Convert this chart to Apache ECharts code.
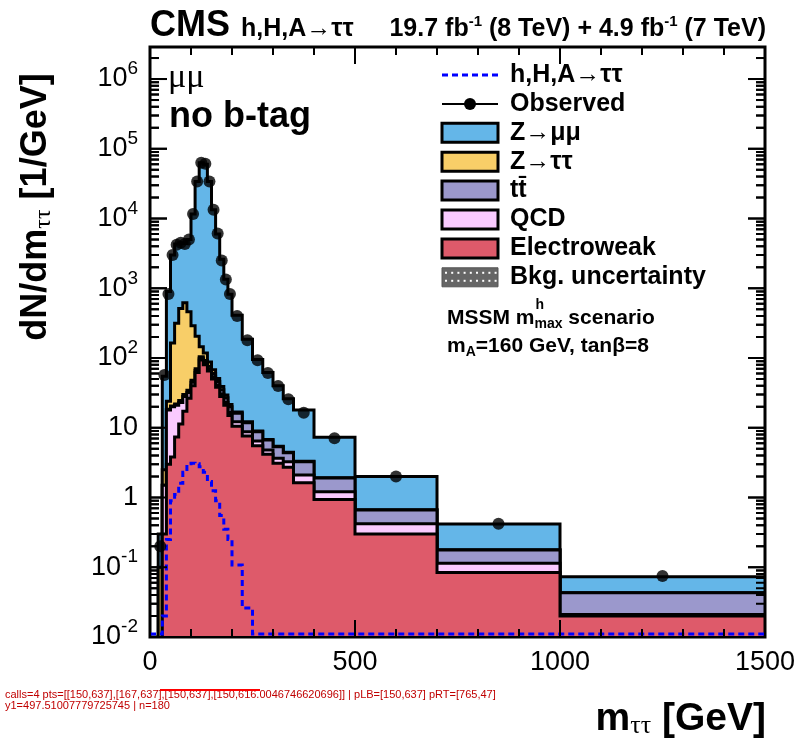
<!DOCTYPE html>
<html>
<head>
<meta charset="utf-8">
<script src="https://cdn.jsdelivr.net/npm/echarts@6.0.0/dist/echarts.min.js"></script>
<style>
html,body{margin:0;padding:0;background:#ffffff;}
#chart{width:799px;height:742px;}
</style>
</head>
<body>
<div id="chart"></div>
<script>
const binEdges = [0,10,20,30,40,50,60,70,80,90,100,110,120,130,140,150,160,170,180,190,200,225,250,275,300,325,350,400,500,700,1000,1500];
const observed = [null,null,0.2,57,830,3000,4200,4500,4300,5000,11600,34000,63000,61000,34000,13400,6100,2500,1340,830,400,180,93,61,39.6,25.6,16.4,7.1,2.0,0.42,0.075];
const electroweak = [0,0,0,0.3,3,3.8,7.4,11.3,17.3,26.5,40,62,94,80,65,50,38,28,21,15,10.5,7.6,5.5,4.16,3.09,2.71,1.63,0.94,0.30,0.084,0.020];
const qcd = [0,0,0,1.2,15,16.2,13.6,11.7,10.7,5.5,5,4,5,6,5,4,3,2.5,2,1.5,1.7,1.2,0.96,0.64,0.56,0.55,0.47,0.27,0.12,0.03,0.001];
const ttbar = [0,0,0,0,0.5,0.5,1,1.5,2,2.5,3,4,5,6,6,6,5,4.5,4,3.5,3.9,3.0,2.34,1.87,1.7,1.14,1.16,0.69,0.24,0.063,0.022];
const ztautau = [0,0,0.1,1,5.5,143.5,292,490.5,591,425.5,242,135,41,26,12,8,5,4,2.5,1.5,0.7,0.4,0.2,0.13,0.1,0.05,0.04,0.02,0.01,0.001,0];
const zmumu = [0,0,0.2,52.5,876,2836,3986,3985,3779,4540,11310,33795,62855,59882,33912,13332,5949,2561,1320,798,393,173,86,55.2,34.6,21.6,14.7,5.38,1.33,0.239,0.030];
const signal = [0,0,0,0.02,0.25,0.9,1.1,1.6,2.3,3.05,3.1,3.05,2.75,2.3,1.7,1.25,0.9,0.55,0.35,0.25,0.108,0.026,0,0,0,0,0,0,0,0,0];
const xTickValues = [0,500,1000,1500];
const yDecadeTicks = [0.01,0.1,1,10,100,1000,1e4,1e5,1e6];
const legendNames = ['h,H,A→ττ','Observed','Z→μμ','Z→ττ','tt\u0304','QCD','Electroweak','Bkg. uncertainty'];

const FONT = "'Liberation Sans', Arial, Helvetica, sans-serif";
const SERIF = "'Liberation Serif', 'DejaVu Serif', serif";
const Y_MIN = 0.01, Y_MAX = 2.88e6;
const nBins = binEdges.length - 1;
const colors = {zmm:'#64B6E8', ztt:'#F8CE68', tt:'#9B98CC', qcd:'#FACAFF', ewk:'#DE5A6A'};

function cumulate(list){
  const out = []; let run = new Array(nBins).fill(0);
  list.forEach(arr => { run = run.map((r,i) => r + (arr[i] || 0)); out.push(run.slice()); });
  return out;
}
const [cEwk, cQcd, cTt, cZtt, cZmm] = cumulate([electroweak, qcd, ttbar, ztautau, zmumu]);

function stackSeries(name, cum, color){
  return {
    type:'custom', name:name, coordinateSystem:'cartesian2d', clip:true, silent:true,
    data:[[0,1]], z:2,
    renderItem:function(params, api){
      const floor = 0.003;
      const pts = [api.coord([binEdges[0], floor])];
      for (let i=0;i<nBins;i++){
        const v = Math.max(cum[i], floor);
        pts.push(api.coord([binEdges[i], v]));
        pts.push(api.coord([binEdges[i+1], v]));
      }
      pts.push(api.coord([binEdges[nBins], floor]));
      return {type:'polygon', shape:{points:pts}, style:{fill:color, stroke:'#000', lineWidth:3, lineJoin:'miter'}};
    }
  };
}
const signalSeries = {
  type:'custom', name:'signal', coordinateSystem:'cartesian2d', clip:true, silent:true, data:[[0,1]], z:3,
  renderItem:function(params, api){
    const pts = [];
    for (let i=0;i<nBins;i++){
      const v = Math.max(signal[i], 0.011);
      pts.push(api.coord([binEdges[i], v]));
      pts.push(api.coord([binEdges[i+1], v]));
    }
    return {type:'polyline', shape:{points:pts}, style:{stroke:'#0000FF', lineWidth:3, lineDash:[6,4], fill:null}};
  }
};
const obsData = [];
observed.forEach((v,i) => { if (v != null) obsData.push([(binEdges[i]+binEdges[i+1])/2, v]); });

const yTicks = [];
for (let k=-2;k<=6;k++){
  for (let m=1;m<=9;m++){
    const v = m*Math.pow(10,k);
    if (v >= Y_MIN && v <= Y_MAX) yTicks.push({v:v, major:m===1});
  }
}
const xTicks = [];
for (let v=xTickValues[0]; v<=xTickValues[xTickValues.length-1]; v+=100){
  xTicks.push({v:v, major:xTickValues.indexOf(v) >= 0});
}
window.__dbg = {calls:0, pts:''};
function tickSeries(side){
  return {
    type:'custom', name:'ticks_'+side, coordinateSystem:'cartesian2d', clip:true, silent:true, data:[[0,1]], z:3,
    renderItem:function(params, api){
      window.__dbg.calls++;
      const pts = [];
      if (side === 'left' || side === 'right'){
        const xv = side === 'left' ? xTickValues[0] : xTickValues[xTickValues.length-1];
        const dir = side === 'left' ? 1 : -1;
        yTicks.forEach(t => {
          const p = api.coord([xv, t.v]);
          const len = t.major ? 17 : 9;
          pts.push([p[0], p[1]]); pts.push([p[0] + dir*len, p[1]]); pts.push([p[0], p[1]]);
        });
      } else {
        const yv = side === 'bottom' ? Y_MIN : Y_MAX;
        const dir = side === 'bottom' ? -1 : 1;
        xTicks.forEach(t => {
          const p = api.coord([t.v, yv]);
          const len = t.major ? 17 : 8;
          pts.push([p[0], p[1]]); pts.push([p[0], p[1] + dir*len]); pts.push([p[0], p[1]]);
        });
      }
      if (side === 'left') window.__dbg.pts = JSON.stringify(pts.slice(0,4));
      return {type:'polyline', shape:{points:pts}, style:{stroke:'#000000', lineWidth:2, fill:null}};
    }
  };
}

const graphics = [];
const LX = 442, LW = 56, LH = 19, TX = 510;
const rowY = i => 75 + 28.9*i;
graphics.push({type:'line', shape:{x1:LX, y1:rowY(0), x2:LX+LW, y2:rowY(0)}, style:{stroke:'#0000FF', lineWidth:3, lineDash:[6,4]}});
graphics.push({type:'line', shape:{x1:LX, y1:rowY(1), x2:LX+LW, y2:rowY(1)}, style:{stroke:'#000', lineWidth:2}});
graphics.push({type:'circle', shape:{cx:LX+LW/2, cy:rowY(1), r:6}, style:{fill:'#000'}});
[colors.zmm, colors.ztt, colors.tt, colors.qcd, colors.ewk].forEach((c,j) => {
  const y = rowY(j+2);
  graphics.push({type:'rect', shape:{x:LX, y:y-LH/2, width:LW, height:LH}, style:{fill:c, stroke:'#000', lineWidth:3}});
});
(function(){
  const y = rowY(7);
  graphics.push({type:'rect', shape:{x:LX, y:y-LH/2, width:LW, height:LH}, style:{fill:'#666666', stroke:'#555555', lineWidth:1}});
  for (let r=0;r<2;r++) for (let c=0;c<9;c++){
    graphics.push({type:'rect', shape:{x:LX+3+c*6.2, y:y-LH/2+4+r*8, width:2, height:2}, style:{fill:'#ffffff'}});
  }
})();
legendNames.forEach((t,i) => {
  graphics.push({type:'text', x:TX, y:rowY(i), style:{text:t, fontSize:25, fontWeight:'bold', fontFamily:FONT, fill:'#000', align:'left', verticalAlign:'middle'}});
});
const mc = document.createElement('canvas').getContext('2d');
mc.font = 'bold 21px ' + FONT;
const mssmX = 447;
const hX = mssmX + mc.measureText('MSSM m').width;
graphics.push({type:'text', x:mssmX, y:318, style:{text:'MSSM m{sub|max} scenario', rich:{sub:{fontSize:14, fontWeight:'bold', fontFamily:FONT, padding:[13,0,0,0]}}, fontSize:21, fontWeight:'bold', fontFamily:FONT, fill:'#000', align:'left', verticalAlign:'middle'}});
graphics.push({type:'text', x:hX+1, y:305, style:{text:'h', fontSize:14, fontWeight:'bold', fontFamily:FONT, fill:'#000', align:'left', verticalAlign:'middle'}});
graphics.push({type:'text', x:mssmX, y:346, style:{text:'m{sub|A}=160 GeV, tanβ=8', rich:{sub:{fontSize:14, fontWeight:'bold', fontFamily:FONT, padding:[13,0,0,0]}}, fontSize:21, fontWeight:'bold', fontFamily:FONT, fill:'#000', align:'left', verticalAlign:'middle'}});
graphics.push({type:'text', x:150, y:26, style:{text:'CMS', fontSize:36, fontWeight:'bold', fontFamily:FONT, fill:'#000', align:'left', verticalAlign:'middle'}});
graphics.push({type:'text', x:241, y:29, style:{text:'h,H,A→ττ', fontSize:25, fontWeight:'bold', fontFamily:FONT, fill:'#000', align:'left', verticalAlign:'middle'}});
graphics.push({type:'text', x:766, y:29, style:{text:'19.7 fb{sup|-1} (8 TeV) + 4.9 fb{sup|-1} (7 TeV)', rich:{sup:{fontSize:15, fontWeight:'bold', fontFamily:FONT, padding:[0,0,15,0]}}, fontSize:25, fontWeight:'bold', fontFamily:FONT, fill:'#000', align:'right', verticalAlign:'middle'}});
graphics.push({type:'text', x:168, y:78, style:{text:'μμ', fontSize:34, fontFamily:SERIF, fill:'#000', align:'left', verticalAlign:'middle'}});
graphics.push({type:'text', x:169, y:117, style:{text:'no b-tag', fontSize:36, fontWeight:'bold', fontFamily:FONT, fill:'#000', align:'left', verticalAlign:'middle'}});
graphics.push({type:'text', x:36, y:207, rotation:Math.PI/2, style:{text:'dN/dm{sub|ττ} [1/GeV]', rich:{sub:{fontSize:24, fontFamily:SERIF, padding:[15,0,0,0]}}, fontSize:36, fontWeight:'bold', fontFamily:FONT, fill:'#000', align:'center', verticalAlign:'middle'}});
graphics.push({type:'text', x:766, y:719, style:{text:'m{sub|ττ} [GeV]', rich:{sub:{fontSize:26, fontFamily:SERIF, padding:[15,0,0,0]}}, fontSize:39, fontWeight:'bold', fontFamily:FONT, fill:'#000', align:'right', verticalAlign:'middle'}});

const chart = echarts.init(document.getElementById('chart'), null, {renderer:'canvas'});
chart.setOption({
  backgroundColor:'#ffffff',
  animation:false,
  grid:{left:150, top:47, width:615, height:590, show:true, borderColor:'#000', borderWidth:3, backgroundColor:'transparent'},
  xAxis:[
    {type:'value', position:'bottom', min:xTickValues[0], max:xTickValues[xTickValues.length-1], interval:xTickValues[1]-xTickValues[0],
     axisLine:{show:false}, splitLine:{show:false}, axisTick:{show:false}, minorTick:{show:false},
     axisLabel:{show:true, fontSize:27, color:'#000', fontFamily:FONT, margin:12,
      formatter:v => xTickValues.indexOf(v) >= 0 ? String(v) : ''}}
  ],
  yAxis:{
    type:'log', logBase:10, min:Y_MIN, max:Y_MAX,
    axisLine:{show:false}, axisTick:{show:false}, minorTick:{show:false}, splitLine:{show:false},
    axisLabel:{show:true, color:'#000', fontSize:27, fontFamily:FONT, margin:12,
      formatter:function(v){
        const l = Math.log10(v), e = Math.round(l);
        if (Math.abs(l-e) > 1e-6) return '';
        if (!yDecadeTicks.some(t => Math.abs(Math.log10(t)-e) < 1e-6)) return '';
        if (e === 0) return '1';
        if (e === 1) return '10';
        return '{b|10}{s|' + e + '}';
      },
      rich:{b:{fontSize:27, fontFamily:FONT, color:'#000'}, s:{fontSize:19, fontFamily:FONT, color:'#000', padding:[0,0,20,0]}}
    }
  },
  series:[
    stackSeries('Z→μμ', cZmm, colors.zmm),
    stackSeries('Z→ττ', cZtt, colors.ztt),
    stackSeries('ttbar', cTt, colors.tt),
    stackSeries('QCD', cQcd, colors.qcd),
    stackSeries('Electroweak', cEwk, colors.ewk),
    signalSeries,
    tickSeries('left'), tickSeries('right'), tickSeries('bottom'), tickSeries('top'),
    {type:'scatter', name:'Observed', data:obsData, symbol:'circle', symbolSize:12, itemStyle:{color:'#000'}, z:4, silent:true}
  ]
});

let dbgText = 'calls=' + window.__dbg.calls + ' pts=' + window.__dbg.pts;
const tickEls = [];
try {
  const tickLine = (a,b,c,d) => ({type:'line', shape:{x1:a, y1:b, x2:c, y2:d}, style:{stroke:'#000', lineWidth:2}});
  const pLB = chart.convertToPixel({xAxisIndex:0, yAxisIndex:0}, [xTickValues[0], Y_MIN]);
  const pRT = chart.convertToPixel({xAxisIndex:0, yAxisIndex:0}, [xTickValues[xTickValues.length-1], Y_MAX]);
  dbgText += ' | pLB=' + JSON.stringify(pLB) + ' pRT=' + JSON.stringify(pRT) + ' y1=' + chart.convertToPixel({yAxisIndex:0}, 1);
  if (pLB && pRT && isFinite(pLB[0]) && isFinite(pLB[1]) && isFinite(pRT[0]) && isFinite(pRT[1])){
    yTicks.forEach(t => {
      const y = chart.convertToPixel({yAxisIndex:0}, t.v);
      const len = t.major ? 17 : 9;
      if (isFinite(y)){ tickEls.push(tickLine(pLB[0], y, pLB[0]+len, y)); tickEls.push(tickLine(pRT[0], y, pRT[0]-len, y)); }
    });
    xTicks.forEach(t => {
      const x = chart.convertToPixel({xAxisIndex:0}, t.v);
      const len = t.major ? 17 : 8;
      if (isFinite(x)){ tickEls.push(tickLine(x, pLB[1], x, pLB[1]-len)); tickEls.push(tickLine(x, pRT[1], x, pRT[1]+len)); }
    });
  }
} catch (e) { dbgText += ' | err=' + e.message; }
dbgText += ' | n=' + tickEls.length;
graphics.push({type:'text', x:5, y:700, style:{text:dbgText, fontSize:11, fontFamily:FONT, fill:'#c00000', align:'left', verticalAlign:'middle', width:560, overflow:'break'}});
graphics.push({type:'line', shape:{x1:160, y1:690, x2:260, y2:690}, style:{stroke:'#ff0000', lineWidth:2}});
chart.setOption({graphic: graphics.concat(tickEls)});
</script>
</body>
</html>
